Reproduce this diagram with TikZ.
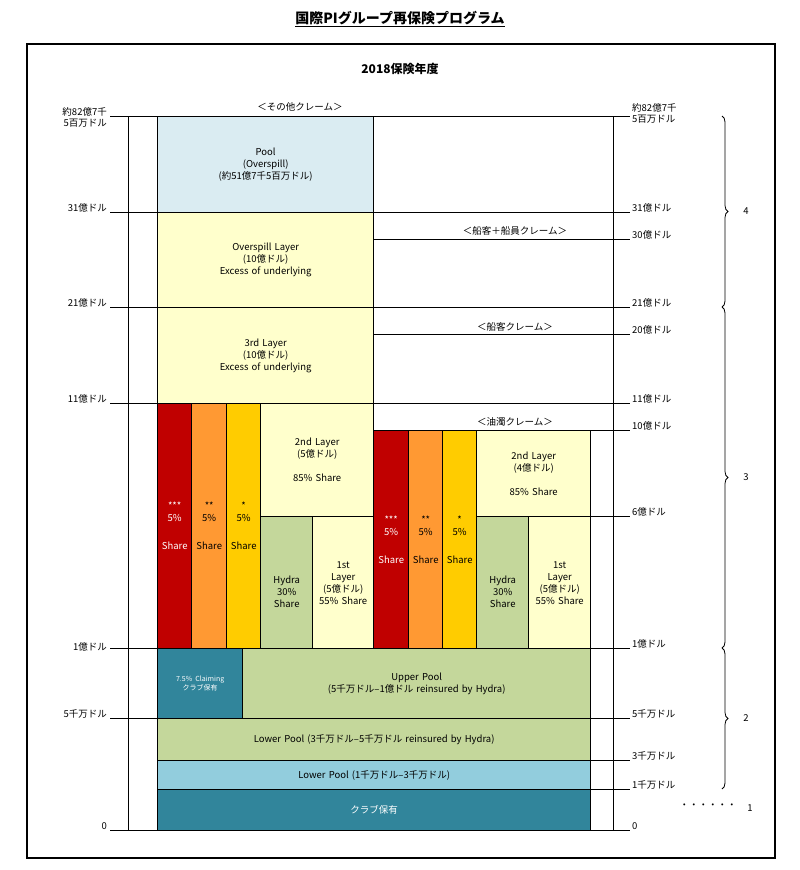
\documentclass[tikz,border=0pt]{standalone}
\usepackage{fontspec}
\setmainfont{Noto Sans CJK JP}
\usetikzlibrary{decorations.pathreplacing}
\definecolor{poolblue}{RGB}{218,236,242}
\definecolor{lyellow}{RGB}{255,255,204}
\definecolor{cred}{RGB}{192,0,0}
\definecolor{corange}{RGB}{255,153,51}
\definecolor{cyellow}{RGB}{255,204,0}
\definecolor{cgreen}{RGB}{196,215,155}
\definecolor{cteal}{RGB}{49,133,155}
\definecolor{lblue}{RGB}{146,205,221}
\tikzset{
  bx/.style={draw=black,line width=1.4pt,inner sep=0pt,anchor=north west,align=center,font=\fontsize{9.5}{12}\selectfont},
  lvl/.style={line width=1pt},
  lab/.style={font=\fontsize{9.5}{11}\selectfont,inner sep=1pt},
  brc/.style={decorate,decoration={brace,amplitude=6pt},line width=0.8pt}
}
\newcommand{\bx}[7]{\node[bx,fill=#6,minimum width={(#4-#2)*1pt},minimum height={(#5-#3)*1pt},text width={(#4-#2-2)*1pt}] (#1) at (#2,#3) {#7};}
\begin{document}
\begin{tikzpicture}[x=1pt,y=-1pt]
\useasboundingbox (0,0) rectangle (800,870);
\node[font=\fontsize{14}{16}\selectfont\bfseries] (title) at (400,19) {\underline{国際PIグループ再保険プログラム}};
\draw[line width=2.6pt] (27,44) rectangle (775,858);
\node[font=\fontsize{12}{14}\selectfont\bfseries] (year) at (400,69) {2018保険年度};
% axes
\draw[lvl] (128,116) -- (128,830);
\draw[lvl] (613,116) -- (613,830);
% level lines
\foreach \y in {116,212,307,403,648,718,830} \draw[lvl] (110,\y) -- (157,\y);
\foreach \y in {116,212,239,307,334,403,430} \draw[lvl] (373,\y) -- (630,\y);
\foreach \y in {516,648,718,760,789,830} \draw[lvl] (590,\y) -- (630,\y);
% boxes
\bx{pool}{157}{116}{373}{212}{poolblue}{Pool\\(Overspill)\\(約51億7千5百万ドル)}
\bx{ovs}{157}{212}{373}{307}{lyellow}{Overspill Layer\\(10億ドル)\\Excess of underlying}
\bx{third}{157}{307}{373}{403}{lyellow}{3rd Layer\\(10億ドル)\\Excess of underlying}
\bx{r1}{157}{403}{191}{648}{cred}{\color{white}***\\\color{white}5\%\\[16pt]\color{white}Share}
\bx{o1}{191}{403}{226}{648}{corange}{**\\5\%\\[16pt]Share}
\bx{y1}{226}{403}{260}{648}{cyellow}{*\\5\%\\[16pt]Share}
\bx{sec1}{260}{403}{373}{516}{lyellow}{2nd Layer\\(5億ドル)\\[12pt]85\% Share}
\bx{hyd1}{260}{516}{312}{648}{cgreen}{\\[14pt]Hydra\\30\%\\Share}
\bx{fst1}{312}{516}{373}{648}{lyellow}{1st\\Layer\\(5億ドル)\\55\% Share}
\bx{r2}{373}{430}{408}{648}{cred}{\color{white}***\\\color{white}5\%\\[16pt]\color{white}Share}
\bx{o2}{408}{430}{442}{648}{corange}{**\\5\%\\[16pt]Share}
\bx{y2}{442}{430}{476}{648}{cyellow}{*\\5\%\\[16pt]Share}
\bx{sec2}{476}{430}{590}{516}{lyellow}{2nd Layer\\(4億ドル)\\[12pt]85\% Share}
\bx{hyd2}{476}{516}{528}{648}{cgreen}{\\[14pt]Hydra\\30\%\\Share}
\bx{fst2}{528}{516}{590}{648}{lyellow}{1st\\Layer\\(5億ドル)\\55\% Share}
\bx{claim}{157}{648}{242}{718}{cteal}{\color{white}\fontsize{7}{9}\selectfont 7.5\% Claiming\\\color{white}\fontsize{7}{9}\selectfont クラブ保有\\[14pt]}
\bx{upper}{242}{648}{590}{718}{cgreen}{Upper Pool\\(5千万ドル–1億ドル reinsured by Hydra)}
\bx{lower}{157}{718}{590}{760}{cgreen}{Lower Pool (3千万ドル–5千万ドル reinsured by Hydra)}
\bx{lower2}{157}{760}{590}{789}{lblue}{Lower Pool (1千万ドル–3千万ドル)}
\bx{club}{157}{789}{590}{830}{cteal}{\color{white}クラブ保有}
% claim labels
\node[lab] (c1) at (300,107) {＜その他クレーム＞};
\node[lab] (c2) at (515,231) {＜船客＋船員クレーム＞};
\node[lab] (c3) at (515,327) {＜船客クレーム＞};
\node[lab] (c4) at (515,422) {＜油濁クレーム＞};
% left labels
\node[lab,anchor=east,align=right] (l1) at (108,117) {約82億7千\\5百万ドル};
\node[lab,anchor=south east] at (108,213) {31億ドル};
\node[lab,anchor=south east] at (108,308) {21億ドル};
\node[lab,anchor=south east] at (108,404) {11億ドル};
\node[lab,anchor=south east] at (108,652) {1億ドル};
\node[lab,anchor=south east] at (108,719) {5千万ドル};
\node[lab,anchor=south east] at (108,831) {0};
% right labels
\node[lab,anchor=north west,align=left] at (631,102) {約82億7千\\5百万ドル};
\foreach \y/\t in {212/31億ドル,239/30億ドル,307/21億ドル,334/20億ドル,403/11億ドル,430/10億ドル,516/6億ドル,648/1億ドル,718/5千万ドル,760/3千万ドル,789/1千万ドル,830/0}
  \node[lab,anchor=south west] at (631,\y+1) {\t};
% braces
\draw[brc] (722,116) -- (722,307) node[midway,right=20pt,lab] (b4) {4};
\draw[brc] (722,307) -- (722,648) node[midway,right=20pt,lab] (b3) {3};
\draw[brc] (722,648) -- (722,789) node[midway,right=20pt,lab] (b2) {2};
\node[lab] (b1) at (750,808) {1};
\node[lab] (dots) at (708,806) {・・・・・・};
\end{tikzpicture}
\end{document}
